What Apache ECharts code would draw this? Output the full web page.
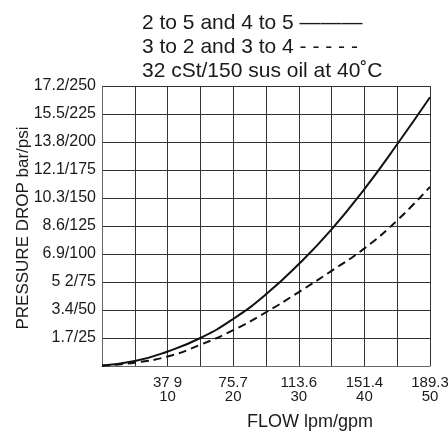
<!DOCTYPE html>
<html>
<head>
<meta charset="utf-8">
<script src="https://cdn.jsdelivr.net/npm/echarts@6/dist/echarts.min.js"></script>
<style>html,body{margin:0;padding:0;background:#fff}#c{width:448px;height:433px}</style>
</head>
<body>
<div id="c"></div>
<script>
var flowGpm = [0, 5, 10, 15, 20, 25, 30, 35, 40, 45, 50];
var solidPsi = [0.5, 4.4, 13, 25, 42, 64, 91, 122, 158, 198, 240];
var dashedPsi = [0.3, 3, 8.5, 19, 32, 48, 66, 85, 105, 130, 160];
var xTickLabels = {10: '37 9\n10', 20: '75.7\n20', 30: '113.6\n30', 40: '151.4\n40', 50: '189.3\n50'};
var yTickLabels = {25: '1.7/25', 50: '3.4/50', 75: '5 2/75', 100: '6.9/100', 125: '8.6/125',
  150: '10.3/150', 175: '12.1/175', 200: '13.8/200', 225: '15.5/225', 250: '17.2/250'};
var titleLines = ['2 to 5 and 4 to 5 \u2014\u2014\u2014', '3 to 2 and 3 to 4 - - - - -', '32 cSt/150 sus oil at 40\u02daC'];
var yAxisName = 'PRESSURE DROP bar/psi';
var xAxisName = 'FLOW lpm/gpm';

function pairs(xs, ys) { return xs.map(function (x, i) { return [x, ys[i]]; }); }

var font = "'Liberation Sans', Arial, Helvetica, sans-serif";
var chart = echarts.init(document.getElementById('c'));
chart.setOption({
  animation: false,
  title: [
    { text: titleLines.join('\n'), left: 137, top: 6,
      textStyle: { fontFamily: font, fontSize: 21, fontWeight: 'normal', color: '#1a1a1a', lineHeight: 24 } },
    { text: xAxisName, left: 305, top: 408, textAlign: 'center',
      textStyle: { fontFamily: font, fontSize: 18, fontWeight: 'normal', color: '#1a1a1a' } }
  ],
  graphic: [
    { type: 'text', x: 23, y: 228, rotation: Math.PI / 2,
      style: { text: yAxisName, fontFamily: font, fontSize: 17, fill: '#1a1a1a',
        align: 'center', verticalAlign: 'middle' } }
  ],
  grid: { left: 102, right: 18, top: 86, bottom: 67, containLabel: false, outerBoundsMode: 'none' },
  xAxis: {
    type: 'value', min: 0, max: 50, interval: 5,
    axisLine: { show: true, lineStyle: { color: '#666', width: 1 } },
    axisTick: { show: false },
    splitLine: { show: true, lineStyle: { color: '#333', width: 1 } },
    axisLabel: {
      margin: 10, fontFamily: font, fontSize: 15, color: '#1a1a1a', lineHeight: 14,
      formatter: function (v) { return xTickLabels[v] || ''; }
    }
  },
  yAxis: {
    type: 'value', min: 0, max: 250, interval: 25,
    axisLine: { show: true, lineStyle: { color: '#666', width: 1 } },
    axisTick: { show: false },
    splitLine: { show: true, lineStyle: { color: '#333', width: 1 } },
    axisLabel: {
      margin: 6, fontFamily: font, fontSize: 16, color: '#1a1a1a',
      formatter: function (v) { return yTickLabels[v] || ''; }
    }
  },
  series: [
    { type: 'line', data: pairs(flowGpm, solidPsi), smooth: true, symbol: 'none',
      lineStyle: { color: '#111', width: 2 } },
    { type: 'line', data: pairs(flowGpm, dashedPsi), smooth: true, symbol: 'none',
      lineStyle: { color: '#111', width: 2, type: [8, 5] } }
  ]
});
</script>
</body>
</html>
